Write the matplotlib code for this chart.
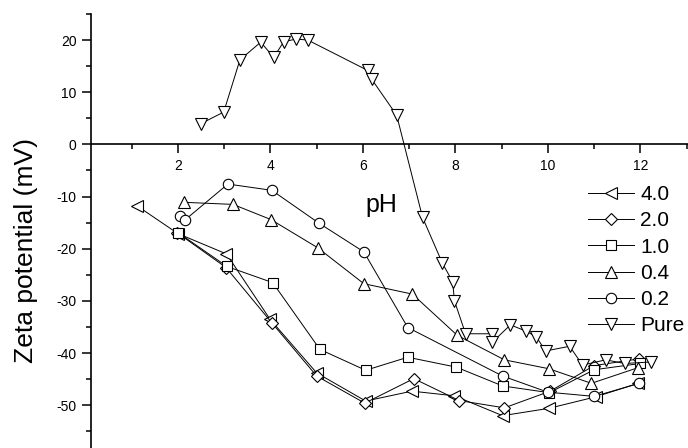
import matplotlib
matplotlib.use("Agg")
import matplotlib.pyplot as plt
from matplotlib.ticker import MultipleLocator

plt.rcParams['font.family'] = ['Liberation Sans', 'DejaVu Sans']
plt.rcParams['axes.unicode_minus'] = False

# pH / zeta potential (mV) for each concentration
ph_40 = [1.12, 2.0, 3.05, 3.99, 5.0, 6.06, 7.06, 7.98, 9.02, 10.02, 11.03, 11.95]
zp_40 = [-11.8, -17.1, -21.0, -33.5, -43.8, -49.2, -47.3, -48.2, -52.0, -50.6, -48.4, -45.8]

ph_20 = [1.98, 3.04, 4.03, 5.0, 6.04, 7.1, 8.08, 9.06, 10.05, 11.0, 11.98]
zp_20 = [-16.9, -23.6, -34.2, -44.4, -49.6, -44.9, -49.1, -50.5, -47.3, -42.4, -41.1]

ph_10 = [2.0, 3.06, 4.05, 5.07, 6.06, 6.97, 8.02, 9.02, 10.03, 11.0, 12.0]
zp_10 = [-16.9, -23.4, -26.5, -39.3, -43.3, -40.8, -42.7, -46.3, -47.6, -43.2, -42.0]

ph_04 = [2.13, 3.19, 4.01, 5.02, 6.02, 7.07, 8.04, 9.06, 10.02, 10.94, 11.95]
zp_04 = [-11.1, -11.5, -14.4, -19.8, -26.7, -28.7, -36.6, -41.3, -43.0, -45.8, -42.8]

ph_02 = [2.05, 2.15, 3.08, 4.03, 5.05, 6.02, 6.97, 9.02, 10.0, 11.0, 11.98]
zp_02 = [-13.7, -14.5, -7.6, -8.8, -15.1, -20.6, -35.1, -44.4, -47.5, -48.3, -45.8]

ph_pure = [2.50, 2.99, 3.34, 3.79, 4.07, 4.29, 4.56, 4.81, 6.10, 6.19, 6.73, 7.29, 7.72,
           7.94, 7.98, 8.22, 8.80, 8.80, 9.19, 9.53, 9.75, 9.95, 10.47, 10.75, 11.25, 11.66, 12.24]
zp_pure = [4.0, 6.2, 16.2, 19.6, 16.7, 19.7, 20.2, 20.0, 14.2, 12.5, 5.6, -14.0, -22.8,
           -26.3, -30.0, -36.3, -36.3, -37.9, -34.6, -35.8, -36.9, -39.6, -38.7, -42.3, -41.3, -42.0, -41.7]

series = [
    ("4.0", ph_40, zp_40, "<", 8),
    ("2.0", ph_20, zp_20, "D", 6.5),
    ("1.0", ph_10, zp_10, "s", 6.5),
    ("0.4", ph_04, zp_04, "^", 8),
    ("0.2", ph_02, zp_02, "o", 7.5),
    ("Pure", ph_pure, zp_pure, "v", 8),
]

fig = plt.figure(figsize=(6.88, 4.48), dpi=100)
ax = fig.add_axes([91 / 688, 0, 597 / 688, 434 / 448])

for label, x, y, m, ms in series:
    ax.plot(x, y, color="black", lw=0.7, marker=m, ms=ms, mfc="white",
            mec="black", mew=0.8, label=label)

ax.set_xlim(0.12, 13.03)
ax.set_ylim(-58.2, 25)

ax.spines['top'].set_visible(False)
ax.spines['right'].set_visible(False)
ax.spines['bottom'].set_position(('data', 0))
ax.spines['left'].set_linewidth(1.2)
ax.spines['bottom'].set_linewidth(1.2)

ax.xaxis.set_major_locator(MultipleLocator(2))
ax.xaxis.set_minor_locator(MultipleLocator(1))
ax.yaxis.set_major_locator(MultipleLocator(10))
ax.yaxis.set_minor_locator(MultipleLocator(5))
ax.tick_params(which='major', length=6.5, width=1.1, labelsize=10, pad=4)
ax.tick_params(which='minor', length=3.5, width=1.1)
ax.tick_params(axis='x', which='both', direction='out')

ax.set_ylabel("Zeta potential (mV)", fontsize=19)
ax.yaxis.set_label_coords(-0.089, 0.456)
ax.text(6.4, -11.6, "pH", fontsize=18, ha="center", va="center")

ax.legend(loc="upper left", bbox_to_anchor=(0.8325, 0.606), frameon=False,
          fontsize=15, handlelength=2.2, handletextpad=0.3, labelspacing=0.35,
          borderaxespad=0, borderpad=0)

fig.savefig("out.png", dpi=100)
